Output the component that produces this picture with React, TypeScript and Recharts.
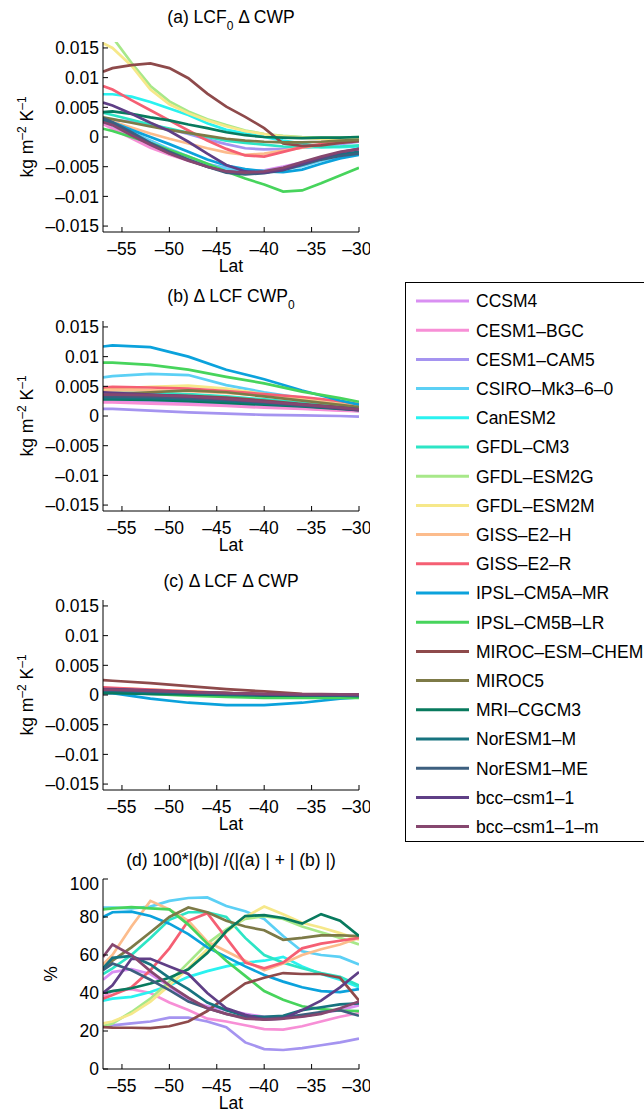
import React from "react";
import { LineChart, Line, XAxis, YAxis } from "recharts";

const FONT = '"Liberation Sans", Helvetica, Arial, sans-serif';

const models = [
  "CCSM4",
  "CESM1–BGC",
  "CESM1–CAM5",
  "CSIRO–Mk3–6–0",
  "CanESM2",
  "GFDL–CM3",
  "GFDL–ESM2G",
  "GFDL–ESM2M",
  "GISS–E2–H",
  "GISS–E2–R",
  "IPSL–CM5A–MR",
  "IPSL–CM5B–LR",
  "MIROC–ESM–CHEM",
  "MIROC5",
  "MRI–CGCM3",
  "NorESM1–M",
  "NorESM1–ME",
  "bcc–csm1–1",
  "bcc–csm1–1–m",
];

const colors = [
  "#d98ff2",
  "#f78fd6",
  "#a594f0",
  "#5cd0f5",
  "#2af2f0",
  "#2de5c5",
  "#a7e889",
  "#f6e88a",
  "#fcbc8c",
  "#f55f73",
  "#0ba2dc",
  "#47d45c",
  "#8e4a4b",
  "#7d7a47",
  "#087a5e",
  "#17737f",
  "#3d5f7f",
  "#5f3f86",
  "#86476f",
];

// latitude grids
const lats = [-57, -56, -54, -52, -50, -48, -46, -44, -42, -40, -38, -36, -34, -32, -30];
const latsSmooth = [-57, -56, -52, -48, -44, -40, -36, -32, -30];

// (a) LCF0 dCWP, units 1e-3 kg m-2 K-1, one row per model
const lcf0DCwp = [
  [2.5, 1.5, 0, -1.5, -2.8, -3.8, -4.6, -5.2, -5.6, -5.6, -5.0, -4.3, -3.5, -2.8, -2.2],
  [2.2, 1.4, -0.2, -1.8, -3.0, -4.0, -4.8, -5.5, -5.8, -5.8, -5.3, -4.5, -3.6, -2.9, -2.3],
  [3.0, 2.9, 2.6, 2.0, 1.3, 0.5, -0.4, -1.2, -1.9, -2.1, -2.0, -1.8, -1.5, -1.2, -0.8],
  [2.6, 2.0, 0.8, -0.6, -2.0, -3.3, -4.5, -5.3, -5.7, -5.7, -5.4, -4.9, -4.0, -3.3, -2.7],
  [7.2, 7.2, 6.8, 5.9, 4.8, 3.7, 2.3, 1.2, 0.6, 0.0, -0.6, -1.1, -1.7, -1.7, -1.6],
  [4.1, 3.7, 2.9, 2.1, 1.4, 0.7, 0.0, -0.6, -1.0, -1.3, -1.6, -1.7, -1.7, -1.6, -1.4],
  [20, 16.8, 12.5, 8.6, 6.0, 4.3, 3.0, 2.0, 1.1, 0.5, 0.2, 0.0, -0.1, -0.1, 0.0],
  [15.8, 15.0, 12.0, 8.0, 5.5, 4.0, 2.8, 1.8, 1.0, 0.5, 0.1, -0.1, -0.3, -0.3, -0.2],
  [3.0, 2.6, 1.6, 0.6, -0.3, -1.1, -1.9, -2.6, -3.0, -2.8, -2.3, -1.8, -1.3, -0.9, -0.6],
  [8.6, 8.0, 6.2, 4.5, 2.8, 1.1, -0.6, -2.0, -3.1, -3.3, -2.5, -1.7, -1.2, -0.8, -0.6],
  [3.0, 2.5, 1.2, 0.0, -1.2, -2.5, -3.8, -4.8, -5.4, -5.8, -5.9, -5.5, -4.5, -3.6, -3.0],
  [1.4, 1.0, 0.0, -1.0, -2.2, -3.3, -4.5, -5.8, -7.0, -8.0, -9.2, -9.0, -7.8, -6.5, -5.2],
  [11.0, 11.6, 12.1, 12.4, 11.6, 9.9, 7.3, 5.1, 3.4, 1.5, -1.1, -1.5, -1.4, -1.0, -0.7],
  [3.3, 3.0, 2.4, 1.8, 1.2, 0.7, 0.2, -0.3, -0.6, -0.8, -0.9, -0.9, -0.8, -0.6, -0.5],
  [4.2, 4.3, 3.9, 3.3, 2.8, 2.1, 1.5, 0.8, 0.3, 0.0, -0.1, -0.2, -0.1, -0.1, 0.0],
  [2.8, 2.2, 0.5, -1.2, -2.7, -3.9, -5.0, -5.8, -6.1, -6.0, -5.3, -4.4, -3.5, -2.9, -2.5],
  [3.2, 2.5, 0.8, -1.0, -2.5, -3.8, -5.0, -6.0, -6.3, -6.1, -5.6, -4.7, -3.8, -3.2, -2.8],
  [5.8, 5.3, 3.9, 2.4, 1.0, -0.8, -2.8, -4.7, -5.8, -6.0, -5.5, -4.5, -3.5, -2.6, -2.0],
  [2.5, 2.0, 0.3, -1.3, -2.8, -4.0, -5.0, -5.8, -6.0, -5.8, -5.2, -4.2, -3.3, -2.5, -2.0],
];

// (b) dLCF CWP0, units 1e-3, on latsSmooth
const dLcfCwp0 = [
  [2.6, 2.6, 2.4, 2.2, 1.9, 1.6, 1.3, 1.0, 0.8],
  [2.3, 2.3, 2.1, 1.9, 1.7, 1.4, 1.2, 0.9, 0.8],
  [1.2, 1.2, 0.9, 0.6, 0.4, 0.2, 0.1, 0.0, -0.1],
  [6.5, 6.7, 7.1, 6.9, 5.2, 4.0, 3.0, 2.0, 1.5],
  [3.8, 3.8, 3.6, 3.4, 3.1, 2.7, 2.1, 1.5, 1.3],
  [4.3, 4.3, 4.0, 3.7, 3.3, 2.8, 2.2, 1.6, 1.4],
  [3.2, 3.2, 3.1, 2.9, 2.6, 2.2, 1.8, 1.4, 1.2],
  [4.5, 4.6, 4.9, 5.1, 4.6, 3.7, 2.9, 2.1, 1.7],
  [4.2, 4.3, 4.3, 4.2, 3.9, 3.4, 2.7, 2.0, 1.6],
  [4.8, 4.9, 4.8, 4.6, 4.2, 3.7, 3.2, 2.5, 2.0],
  [11.7, 11.9, 11.6, 10.0, 7.8, 6.2, 4.3, 2.6, 1.9],
  [9.0, 9.0, 8.6, 7.8, 6.6, 5.5, 4.1, 3.0, 2.4],
  [3.4, 3.5, 3.5, 3.4, 3.1, 2.6, 2.0, 1.5, 1.2],
  [3.5, 3.6, 4.0, 4.3, 4.0, 3.3, 2.6, 1.9, 1.5],
  [2.8, 2.8, 2.7, 2.5, 2.2, 1.9, 1.6, 1.2, 1.0],
  [3.0, 3.0, 3.0, 2.8, 2.5, 2.1, 1.7, 1.3, 1.1],
  [3.3, 3.3, 3.2, 3.0, 2.7, 2.3, 1.8, 1.4, 1.1],
  [4.0, 3.9, 3.6, 3.3, 2.9, 2.4, 1.9, 1.3, 1.0],
  [3.6, 3.6, 3.5, 3.3, 2.9, 2.4, 1.9, 1.4, 1.1],
];

// (c) dLCF dCWP, units 1e-3, on latsSmooth
const dLcfDCwp = [
  [0.8, 0.8, 0.6, 0.4, 0.2, 0.1, 0.0, 0.0, 0.0],
  [0.7, 0.7, 0.5, 0.3, 0.2, 0.1, 0.0, 0.0, 0.0],
  [0.3, 0.3, 0.2, 0.1, 0.0, 0.0, 0.0, 0.0, 0.0],
  [0.9, 0.9, 0.7, 0.4, 0.2, 0.0, -0.1, -0.2, -0.2],
  [0.6, 0.6, 0.4, 0.2, 0.1, 0.0, -0.1, -0.1, -0.1],
  [0.7, 0.7, 0.5, 0.3, 0.1, 0.0, -0.1, -0.2, -0.2],
  [1.0, 1.0, 0.8, 0.5, 0.3, 0.1, 0.0, -0.1, -0.1],
  [1.1, 1.1, 0.9, 0.6, 0.3, 0.1, 0.0, -0.1, -0.1],
  [0.9, 0.9, 0.7, 0.5, 0.3, 0.1, 0.0, 0.0, 0.0],
  [1.3, 1.2, 0.9, 0.6, 0.3, 0.1, -0.1, -0.2, -0.2],
  [0.4, 0.3, -0.6, -1.3, -1.7, -1.7, -1.3, -0.6, -0.4],
  [0.5, 0.5, 0.2, -0.1, -0.3, -0.5, -0.5, -0.5, -0.5],
  [2.5, 2.4, 2.0, 1.5, 1.0, 0.6, 0.2, 0.1, 0.1],
  [0.9, 0.9, 0.7, 0.5, 0.3, 0.1, 0.0, -0.1, -0.1],
  [0.3, 0.3, 0.2, 0.1, 0.0, -0.1, -0.1, -0.1, -0.2],
  [0.7, 0.7, 0.5, 0.3, 0.1, 0.0, 0.0, -0.1, -0.1],
  [0.8, 0.8, 0.6, 0.4, 0.2, 0.1, 0.0, 0.0, -0.1],
  [1.0, 1.0, 0.8, 0.5, 0.3, 0.1, 0.0, 0.0, 0.0],
  [0.9, 0.9, 0.7, 0.5, 0.3, 0.2, 0.1, 0.1, 0.1],
];

// (d) share of |(b)| in |(a)| + |(b)|, percent, on lats
const pctB = [
  [47, 51, 52.5, 50, 43.5, 36, 33, 31, 29, 27.5, 27.5, 27.5, 29.5, 31, 33.5],
  [38, 41, 42, 40, 35, 31, 26.5, 25, 23, 21, 20.7, 22.5, 25, 27.5, 29.5],
  [22.5, 23, 24, 25, 27, 27, 25, 22, 14, 10.5, 10, 11, 12.5, 14, 16],
  [85, 85, 84.5, 85.5, 88.5, 90, 90.3, 85.8, 83, 79, 70, 62, 60, 59, 55],
  [36, 37, 38, 40.5, 44, 48.5, 51.5, 54, 56, 57, 59, 54, 50, 47, 43],
  [50, 53, 60, 69, 78.5, 82.5, 82.5, 80, 69, 60, 56, 53, 50.5, 48.5, 44],
  [22.5, 24, 30, 37, 46, 56, 66, 73.5, 79, 80.5, 79, 75, 72, 69, 65.5],
  [24, 25, 29, 35.5, 44, 53, 63, 72, 80, 85.5, 81.5, 77, 74.5, 71.5, 68],
  [55, 60, 75, 88.5, 84, 78, 67, 62, 57, 52, 55.5, 60, 63, 65.5, 69],
  [37, 39, 43, 52, 63.5, 78, 82, 69, 56, 53, 56, 63.5, 66, 67.5, 69],
  [80, 82.5, 82.8, 80.5, 76.5, 71, 64, 59, 54, 49.5, 46, 43, 41, 40.5, 42],
  [84, 84.5, 85.2, 84.5, 84, 76, 66, 57, 49, 41, 36.5, 33, 31.5, 30.8, 30.5],
  [22, 21.8, 21.7, 21.5, 22.5, 25, 30.5, 38, 45, 48, 50.5, 50, 50, 48, 36],
  [53, 57, 64, 72, 80, 85, 82.5, 78, 75, 73, 68, 69, 70.3, 70.3, 70],
  [40, 41, 42.5, 45, 48, 52.5, 61, 72.5, 80.5, 81, 79.5, 76.5, 81.5, 78, 70],
  [53, 58.5, 59.5, 55, 48, 42, 35, 31, 28, 27.5, 28, 31, 32.5, 34, 34.5],
  [52, 55.5, 52, 47, 41.5, 35.5, 32, 29, 27, 26.5, 27, 28.5, 30, 31, 28],
  [40, 44, 58, 58, 54, 50, 40, 32, 28.5, 26, 26.5, 31, 36, 43, 51],
  [59, 65.5, 60, 51.5, 44, 37.5, 32, 29, 26.5, 26, 26.5, 27.5, 29, 32, 35.5],
];

const latTicks = [-55, -50, -45, -40, -35, -30];
const fluxTicks = [-0.015, -0.01, -0.005, 0, 0.005, 0.01, 0.015];
const pctTicks = [0, 20, 40, 60, 80, 100];

const PLOT_L = 103;
const PLOT_R = 359;
const PLOT_H = 190;
const PAD_T = 6;
const AXIS_H = 40;
const panelTops = [42, 321, 600, 879];

const dash = (v: number) => (v < 0 ? "–" + Math.abs(v) : String(v));

const tickStyle = { fill: "#000", fontSize: 17.5, fontFamily: FONT };

function Panel({
  top,
  lat,
  values,
  scale,
  domain,
  ticks,
}: {
  top: number;
  lat: number[];
  values: number[][];
  scale: number;
  domain: [number, number];
  ticks: number[];
}) {
  const data = lat.map((x, i) => {
    const row: Record<string, number> = { lat: x };
    models.forEach((m, k) => {
      row[m] = values[k][i] * scale;
    });
    return row;
  });

  return (
    <div style={{ position: "absolute", left: 0, top: top - PAD_T }}>
      <LineChart
        width={PLOT_R + 11}
        height={PAD_T + PLOT_H + AXIS_H}
        data={data}
        margin={{ top: PAD_T, right: 11, bottom: 0, left: 0 }}
      >
        <XAxis
          dataKey="lat"
          type="number"
          domain={[-57, -30]}
          ticks={latTicks}
          allowDataOverflow
          height={AXIS_H}
          tickSize={-5}
          tickMargin={16}
          tickFormatter={dash}
          stroke="#000"
          tick={tickStyle}
        />
        <XAxis
          xAxisId="top"
          orientation="top"
          dataKey="lat"
          type="number"
          domain={[-57, -30]}
          ticks={latTicks}
          allowDataOverflow
          height={0}
          tickSize={-5}
          tickFormatter={() => ""}
          stroke="#000"
        />
        <YAxis
          type="number"
          domain={domain}
          ticks={ticks}
          allowDataOverflow
          width={PLOT_L}
          tickSize={-5}
          tickMargin={9}
          tickFormatter={dash}
          stroke="#000"
          tick={tickStyle}
        />
        <YAxis
          yAxisId="right"
          orientation="right"
          type="number"
          domain={domain}
          ticks={ticks}
          allowDataOverflow
          width={0}
          tickSize={-5}
          tickFormatter={() => ""}
          stroke="#000"
        />
        {models.map((m, k) => (
          <Line
            key={m}
            type="linear"
            dataKey={m}
            stroke={colors[k]}
            strokeWidth={2.7}
            dot={false}
            isAnimationActive={false}
          />
        ))}
      </LineChart>
    </div>
  );
}

function UnitLabel({ y }: { y: number }) {
  return (
    <text
      transform={`translate(33, ${y}) rotate(-90)`}
      textAnchor="middle"
      fontSize={17.5}
      fontFamily={FONT}
    >
      kg m
      <tspan dy={-7} fontSize={12}>
        –2
      </tspan>
      <tspan dy={7}> K</tspan>
      <tspan dy={-7} fontSize={12}>
        –1
      </tspan>
    </text>
  );
}

export default function App() {
  const mid = (PLOT_L + PLOT_R) / 2;
  const fluxDomain: [number, number] = [-0.016, 0.016];

  return (
    <div
      style={{
        position: "absolute",
        left: 0,
        top: 0,
        width: 644,
        height: 1113,
        overflow: "hidden",
        background: "#fff",
      }}
    >
      <Panel top={panelTops[0]} lat={lats} values={lcf0DCwp} scale={0.001} domain={fluxDomain} ticks={fluxTicks} />
      <Panel top={panelTops[1]} lat={latsSmooth} values={dLcfCwp0} scale={0.001} domain={fluxDomain} ticks={fluxTicks} />
      <Panel top={panelTops[2]} lat={latsSmooth} values={dLcfDCwp} scale={0.001} domain={fluxDomain} ticks={fluxTicks} />
      <Panel top={panelTops[3]} lat={lats} values={pctB} scale={1} domain={[0, 100]} ticks={pctTicks} />

      <svg
        width={644}
        height={1113}
        style={{ position: "absolute", left: 0, top: 0, pointerEvents: "none" }}
      >
        <g fontFamily={FONT} fontSize={17.5} fill="#000">
          <text x={mid} y={23} textAnchor="middle">
            (a) LCF
            <tspan dy={7} fontSize={12}>
              0
            </tspan>
            <tspan dy={-7}> Δ CWP</tspan>
          </text>
          <text x={mid} y={302} textAnchor="middle">
            (b) Δ LCF CWP
            <tspan dy={7} fontSize={12}>
              0
            </tspan>
          </text>
          <text x={mid} y={587} textAnchor="middle">
            (c) Δ LCF Δ CWP
          </text>
          <text x={mid} y={866} textAnchor="middle">
            (d) 100*|(b)| /(|(a) | + | (b) |)
          </text>

          {panelTops.map((t) => (
            <text key={t} x={mid} y={t + 230} textAnchor="middle">
              Lat
            </text>
          ))}

          <UnitLabel y={panelTops[0] + PLOT_H / 2} />
          <UnitLabel y={panelTops[1] + PLOT_H / 2} />
          <UnitLabel y={panelTops[2] + PLOT_H / 2} />
          <text
            transform={`translate(57, ${panelTops[3] + PLOT_H / 2}) rotate(-90)`}
            textAnchor="middle"
          >
            %
          </text>

          <rect x={405.5} y={282.5} width={260} height={559} fill="#fff" stroke="#000" strokeWidth={1} />
          {models.map((m, k) => {
            const y = 301 + k * 29.2;
            return (
              <g key={m}>
                <line x1={416} x2={469} y1={y} y2={y} stroke={colors[k]} strokeWidth={3} />
                <text x={476} y={y + 6.3}>
                  {m}
                </text>
              </g>
            );
          })}
        </g>
      </svg>
    </div>
  );
}
